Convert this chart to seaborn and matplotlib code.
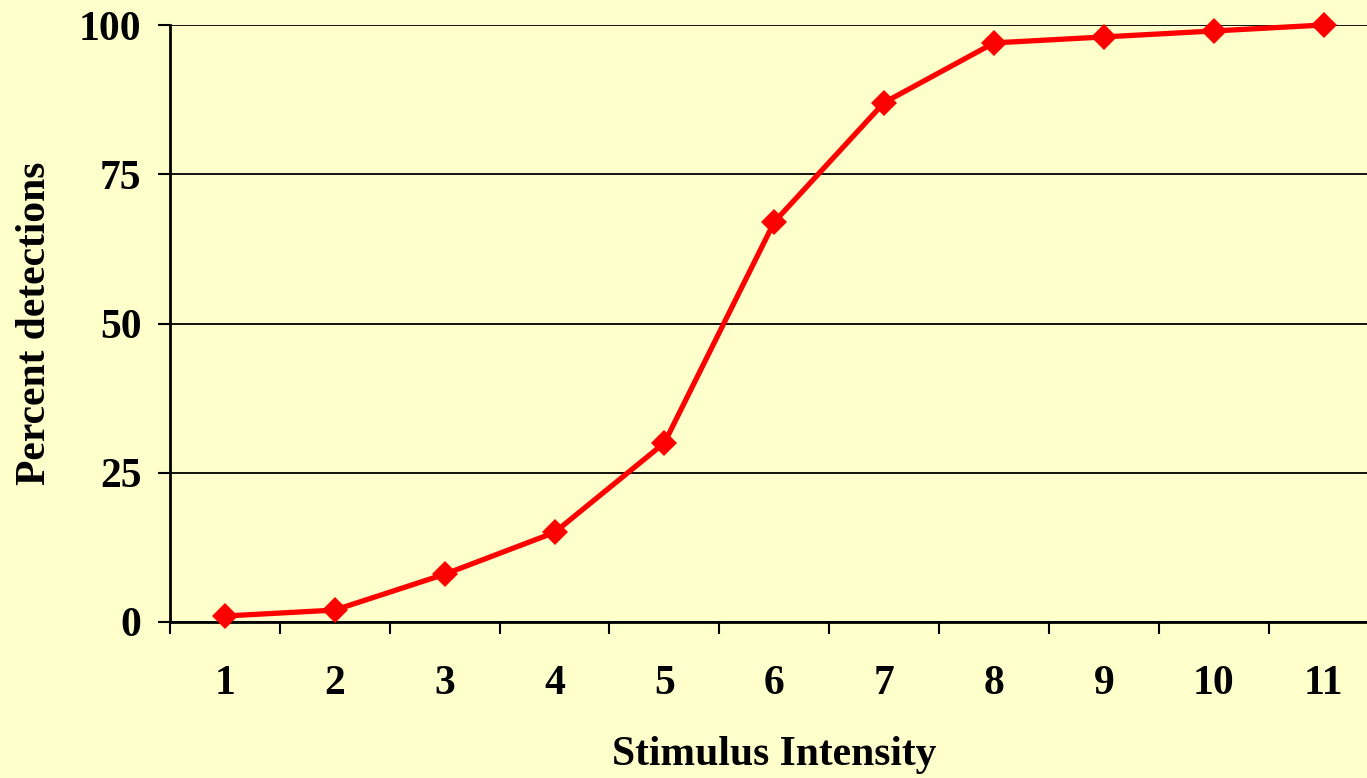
import numpy as np
import pandas as pd
import matplotlib
matplotlib.use('Agg')
import matplotlib.pyplot as plt
import seaborn as sns

intensity = [1, 2, 3, 4, 5, 6, 7, 8, 9, 10, 11]
detections = [1, 2, 8, 15, 30, 67, 87, 97, 98, 99, 100]
y_ticks = [0, 25, 50, 75, 100]

BG = '#FFFFCC'


def draw():
    sns.set_style('white')
    plt.rcParams['font.family'] = ['Liberation Serif', 'DejaVu Serif']
    plt.rcParams['font.weight'] = 'bold'
    plt.rcParams['text.color'] = 'black'
    plt.rcParams['xtick.color'] = 'black'
    plt.rcParams['ytick.color'] = 'black'
    plt.rcParams['axes.labelcolor'] = 'black'

    fig = plt.figure(figsize=(13.67, 7.78), dpi=100, facecolor=BG)
    ax = fig.add_axes([170 / 1367, 156 / 778, 1208.5 / 1367, 597 / 778])
    ax.set_facecolor(BG)

    df = pd.DataFrame({'Stimulus Intensity': intensity, 'Percent detections': detections})
    sns.lineplot(data=df, x='Stimulus Intensity', y='Percent detections', ax=ax,
                 color='#FF0000', linewidth=3.8, marker='D', markersize=13,
                 markeredgecolor='#FF0000', markeredgewidth=0, zorder=3, clip_on=False)

    ax.set_xlim(0.5, 11.5)
    ax.set_ylim(0, 100)
    ax.set_yticks(y_ticks)
    ax.yaxis.grid(True, color='black', linewidth=1.3)
    ax.set_axisbelow(True)

    # category boundaries as tick marks, labels at category centres
    ax.set_xticks(np.arange(0.5, 12, 1))
    ax.set_xticklabels([])
    ax.set_xticks(intensity, minor=True)
    ax.set_xticklabels([str(v) for v in intensity], minor=True)
    ax.tick_params(axis='x', which='major', bottom=True, direction='out', length=8.6, width=1.5)
    ax.tick_params(axis='x', which='minor', bottom=True, length=0, pad=31, labelsize=30)
    ax.tick_params(axis='y', left=True, direction='out', length=8.6, width=1.5, pad=12, labelsize=30)
    for lab in ax.get_xticklabels(minor=True) + ax.get_yticklabels():
        lab.set_fontweight('bold')

    for side in ['top', 'right']:
        ax.spines[side].set_visible(False)
    ax.spines['left'].set_color('black')
    ax.spines['left'].set_linewidth(2)
    ax.spines['bottom'].set_color('black')
    ax.spines['bottom'].set_linewidth(2)

    ax.set_xlabel('Stimulus Intensity', fontsize=30, fontweight='bold', labelpad=24)
    ax.set_ylabel('Percent detections', fontsize=30, fontweight='bold', labelpad=18)

    fig.savefig('out.png', dpi=100, facecolor=BG)


if __name__ == '__main__':
    draw()
